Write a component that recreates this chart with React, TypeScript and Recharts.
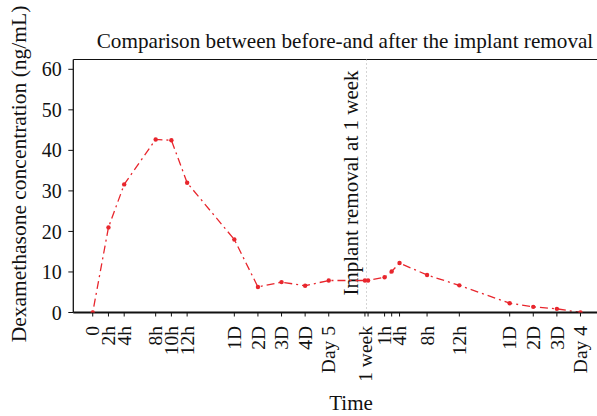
import { LineChart, Line, XAxis, YAxis, ReferenceLine, Label } from 'recharts';

// time points laid out on the original's stretched time axis (before + after removal)
const timePos = [0, 2, 4, 8, 10, 12, 18, 21, 24, 27, 30, 34.6, 35, 37.1, 38, 39, 42.5, 46.6, 53, 56, 59, 62];
const timeLabels = ['0', '2h', '4h', '8h', '10h', '12h', '1D', '2D', '3D', '4D', 'Day 5', '1 week', '', '1h', '', '4h', '8h', '12h', '1D', '2D', '3D', 'Day 4'];
const concentration = [0, 21, 31.6, 42.7, 42.5, 32, 18, 6.3, 7.5, 6.6, 7.9, 7.9, 7.9, 8.7, 10.1, 12.2, 9.25, 6.7, 2.3, 1.4, 0.9, 0];
const yTicks = [0, 10, 20, 30, 40, 50, 60];
const removalAt = 34.8;

const FONT = '"Liberation Serif", "Times New Roman", serif';
const RED = '#e8262d';
const Y_MAX = 62.42;

const data = timePos.map((t, i) => ({ t, conc: concentration[i], label: timeLabels[i] }));

const TimeTick = (props: any) => {
  const { x, y, index } = props;
  const ty = y + 7.5;
  return (
    <text
      x={x}
      y={ty}
      transform={`rotate(-90, ${x}, ${ty})`}
      textAnchor="end"
      dy="0.34em"
      fontSize={19.5}
      fontFamily={FONT}
      fill="#111"
    >
      {timeLabels[index]}
    </text>
  );
};

const App = () => {
  return (
    <div style={{ position: 'absolute', left: 0, top: 0, width: 597, height: 416, overflow: 'hidden', background: '#fff' }}>
      <LineChart
        width={597}
        height={416}
        data={data}
        margin={{ top: 59.5, right: 0, bottom: 0, left: 0 }}
        style={{ fontFamily: FONT }}
      >
        <XAxis
          dataKey="t"
          type="number"
          domain={[-2.47, 64.1]}
          ticks={timePos}
          interval={0}
          allowDataOverflow
          height={103.5}
          tickSize={4}
          tickMargin={2}
          axisLine={{ stroke: '#111', strokeWidth: 2 }}
          tickLine={{ stroke: '#111' }}
          tick={<TimeTick />}
        >
          <Label
            content={({ viewBox }: any) => (
              <text x={351} y={viewBox.y + 97.5} textAnchor="middle" fontSize={21} fontFamily={FONT} fill="#111">
                Time
              </text>
            )}
          />
        </XAxis>
        <YAxis
          type="number"
          domain={[0, Y_MAX]}
          ticks={yTicks}
          allowDataOverflow
          width={73.3}
          tickSize={5}
          tickMargin={6.6}
          axisLine={{ stroke: '#111', strokeWidth: 1.3 }}
          tickLine={{ stroke: '#111' }}
          tick={{ fontSize: 20, fontFamily: FONT, fill: '#111' }}
        >
          <Label
            content={() => (
              <text
                x={26}
                y={174}
                transform="rotate(-90, 26, 174)"
                textAnchor="middle"
                fontSize={21.5}
                fontFamily={FONT}
                fill="#111"
              >
                Dexamethasone concentration (ng/mL)
              </text>
            )}
          />
        </YAxis>
        <ReferenceLine y={Y_MAX} stroke="#111" strokeWidth={1.2} />
        <ReferenceLine
          x={removalAt}
          stroke="#aaa"
          strokeDasharray="1 3"
          label={({ viewBox }: any) => {
            const lx = viewBox.x - 8;
            const ly = 183;
            return (
              <text
                x={lx}
                y={ly}
                transform={`rotate(-90, ${lx}, ${ly})`}
                textAnchor="middle"
                fontSize={21}
                fontFamily={FONT}
                fill="#111"
              >
                Implant removal at 1 week
              </text>
            );
          }}
        />
        <Line
          type="linear"
          dataKey="conc"
          stroke={RED}
          strokeWidth={1.3}
          strokeDasharray="2 4 8 4"
          dot={{ r: 2.2, fill: RED, stroke: RED, strokeWidth: 0 }}
          isAnimationActive={false}
        />
      </LineChart>
      <svg width={597} height={60} style={{ position: 'absolute', left: 0, top: 0, pointerEvents: 'none' }}>
        <text x={345} y={47.5} textAnchor="middle" fontSize={21.2} fontFamily={FONT} fill="#111">
          Comparison between before-and after the implant removal
        </text>
      </svg>
    </div>
  );
};

export default App;
